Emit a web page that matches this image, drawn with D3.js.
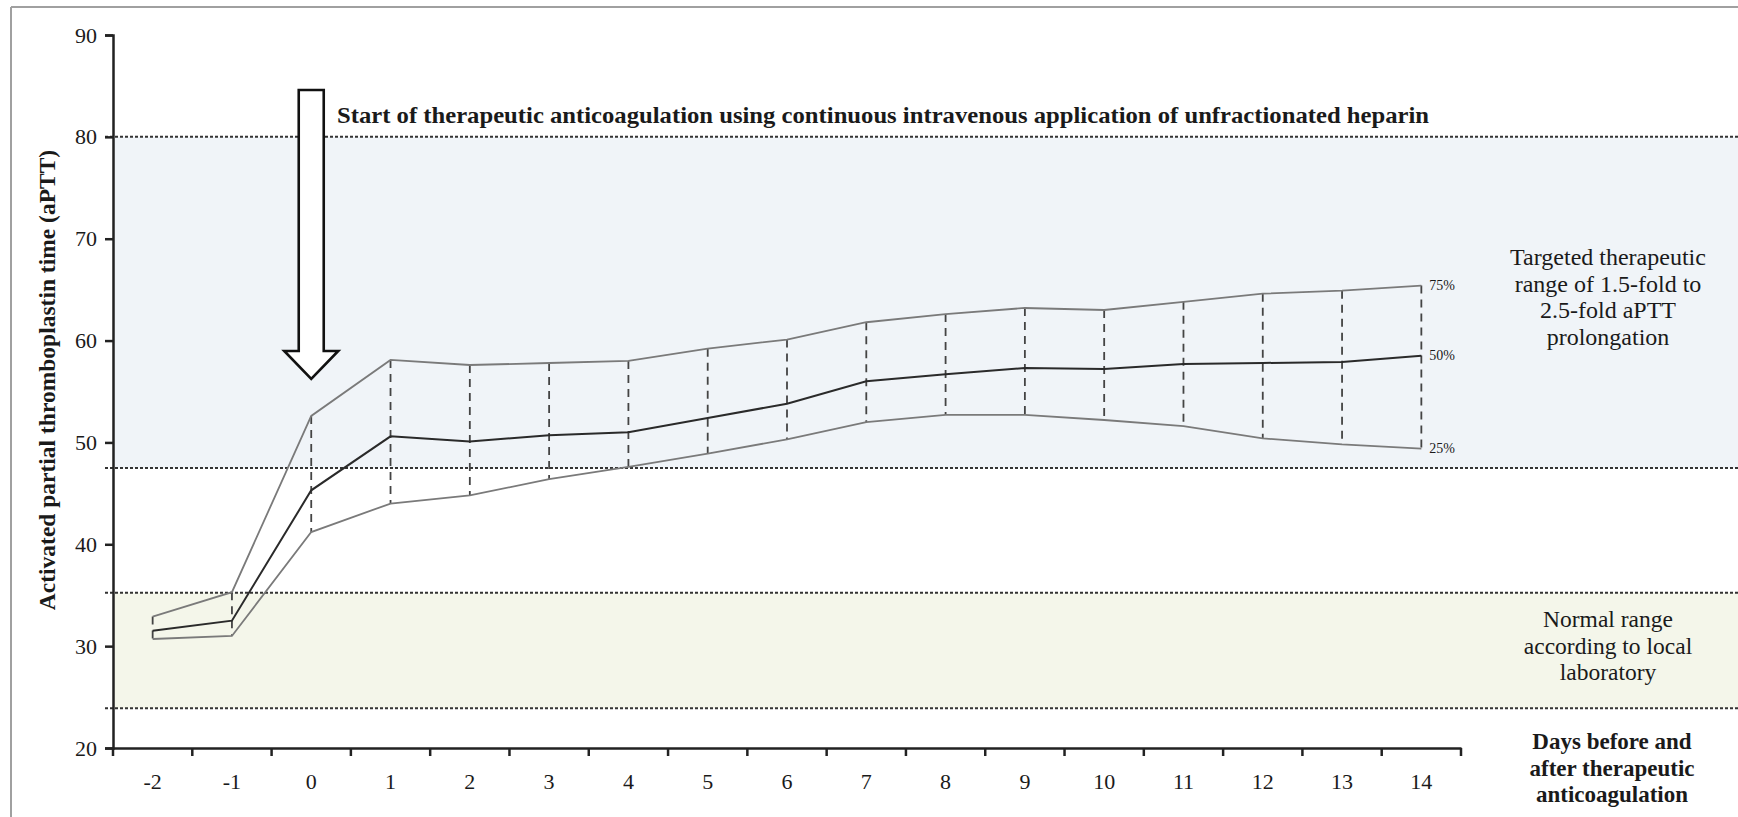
<!DOCTYPE html>
<html>
<head>
<meta charset="utf-8">
<script src="https://cdn.jsdelivr.net/npm/d3@7"></script>
<style>
html,body{margin:0;padding:0;background:#fff;}
svg{display:block;}
text{font-family:"Liberation Serif","DejaVu Serif",serif;fill:#1a1a1a;}
</style>
</head>
<body>
<svg id="chart" width="1738" height="817"></svg>
<script>
// ---- data ----
const days = [-2,-1,0,1,2,3,4,5,6,7,8,9,10,11,12,13,14];
const p75 = [32.9,35.3,52.6,58.1,57.6,57.8,58.0,59.2,60.1,61.8,62.6,63.2,63.0,63.8,64.6,64.9,65.4];
const p50 = [31.5,32.5,45.3,50.6,50.1,50.7,51.0,52.4,53.8,56.0,56.7,57.3,57.2,57.7,57.8,57.9,58.5];
const p25 = [30.7,31.0,41.2,44.0,44.8,46.4,47.6,48.9,50.3,52.0,52.7,52.7,52.2,51.6,50.4,49.8,49.4];
const yTicks = [20,30,40,50,60,70,80,90];
const therapeuticRange = [47.5, 80];
const normalRange = [23.9, 35.25];
const startDay = 0;
const titleText = "Start of therapeutic anticoagulation using continuous intravenous application of unfractionated heparin";
const yLabel = "Activated partial thromboplastin time (aPTT)";
const xLabelLines = ["Days before and","after therapeutic","anticoagulation"];
const therapeuticLines = ["Targeted therapeutic","range of 1.5-fold to","2.5-fold aPTT","prolongation"];
const normalLines = ["Normal range","according to local","laboratory"];
const pctLabels = ["75%","50%","25%"];

// ---- layout ----
const W = 1738, H = 817;
const X0 = 113, X1 = 1461, Y0 = 748, Y1 = 35;
const svg = d3.select("#chart");

const x = d3.scaleBand().domain(days).range([X0, X1]).padding(0);
const y = d3.scaleLinear().domain([20, 90]).range([Y0, Y1]);
const cx = d => x(d) + x.bandwidth() / 2;

// outer frame (top and left)
svg.append("line").attr("x1", 11).attr("x2", W).attr("y1", 7).attr("y2", 7)
  .attr("stroke", "#a0a0a0").attr("stroke-width", 2);
svg.append("line").attr("x1", 11).attr("x2", 11).attr("y1", 7).attr("y2", H)
  .attr("stroke", "#a0a0a0").attr("stroke-width", 2);

// shaded ranges
svg.append("rect").attr("x", X0).attr("width", W - X0)
  .attr("y", y(therapeuticRange[1])).attr("height", y(therapeuticRange[0]) - y(therapeuticRange[1]))
  .attr("fill", "#f0f4f8");
svg.append("rect").attr("x", X0).attr("width", W - X0)
  .attr("y", y(normalRange[1])).attr("height", y(normalRange[0]) - y(normalRange[1]))
  .attr("fill", "#f4f6ea");

// dotted boundary lines
[therapeuticRange[1], therapeuticRange[0], normalRange[1], normalRange[0]].forEach(v => {
  svg.append("line").attr("x1", 105).attr("x2", W).attr("y1", y(v)).attr("y2", y(v))
    .attr("stroke", "#333").attr("stroke-width", 2).attr("stroke-dasharray", "3,2");
});

// vertical dashed connectors
svg.append("g").selectAll("line").data(days).join("line")
  .attr("x1", d => cx(d)).attr("x2", d => cx(d))
  .attr("y1", (d, i) => y(p75[i])).attr("y2", (d, i) => y(p25[i]))
  .attr("stroke", "#444").attr("stroke-width", 1.8).attr("stroke-dasharray", "8,6");

// percentile lines
const line = arr => d3.line().x((d, i) => cx(days[i])).y(d => y(d))(arr);
svg.append("path").attr("d", line(p75)).attr("fill", "none").attr("stroke", "#7a7a7a").attr("stroke-width", 1.8);
svg.append("path").attr("d", line(p25)).attr("fill", "none").attr("stroke", "#7a7a7a").attr("stroke-width", 1.8);
svg.append("path").attr("d", line(p50)).attr("fill", "none").attr("stroke", "#2a2a2a").attr("stroke-width", 2);

// percentile labels
const lastI = days.length - 1;
[[pctLabels[0], p75[lastI]], [pctLabels[1], p50[lastI]], [pctLabels[2], p25[lastI]]].forEach(([t, v]) => {
  svg.append("text").attr("x", cx(days[lastI]) + 8).attr("y", y(v) + 4)
    .attr("font-size", 14).attr("fill", "#333").text(t);
});

// axes
const yAxis = d3.axisLeft(y).tickValues(yTicks).tickSize(8).tickPadding(8);
const gy = svg.append("g").attr("transform", `translate(${X0},0)`).call(yAxis);
gy.select(".domain").attr("stroke", "#222").attr("stroke-width", 2.5);
gy.selectAll(".tick line").attr("stroke", "#222").attr("stroke-width", 2.5);
gy.selectAll(".tick text").attr("font-size", 22).attr("fill", "#222")
  .style("font-family", '"Liberation Serif",serif');

const xAxis = d3.axisBottom(x).tickSize(0).tickPadding(0);
const gx = svg.append("g").attr("transform", `translate(0,${Y0})`).call(xAxis);
gx.select(".domain").attr("stroke", "#222").attr("stroke-width", 2.5);
gx.selectAll(".tick text").attr("font-size", 22).attr("fill", "#222").attr("dy", 0).attr("y", 41)
  .style("font-family", '"Liberation Serif",serif');
// boundary ticks between day bands
const bounds = days.map(d => x(d)).concat([X1]);
gx.selectAll(".bt").data(bounds).join("line").attr("class", "bt")
  .attr("x1", d => d).attr("x2", d => d).attr("y1", 0).attr("y2", 8)
  .attr("stroke", "#222").attr("stroke-width", 2.5);

// y axis label
svg.append("text")
  .attr("transform", `translate(55,380) rotate(-90)`)
  .attr("text-anchor", "middle").attr("font-size", 23.5).attr("font-weight", "bold")
  .text(yLabel);

// arrow at start day
const ax = cx(startDay);
const arrowPts = [
  [ax - 12.5, 90], [ax + 12.5, 90], [ax + 12.5, 351], [ax + 27, 351],
  [ax, 379], [ax - 27, 351], [ax - 12.5, 351]
];
svg.append("path").attr("d", d3.line()(arrowPts) + "Z")
  .attr("fill", "#fff").attr("stroke", "#111").attr("stroke-width", 2.6).attr("stroke-linejoin", "miter");

// title
svg.append("text").attr("x", 337).attr("y", 123)
  .attr("font-size", 24).attr("font-weight", "bold")
  .attr("textLength", 1092).attr("lengthAdjust", "spacingAndGlyphs")
  .text(titleText);

// right annotations
const tr = svg.append("text").attr("text-anchor", "middle").attr("font-size", 24).attr("fill", "#222");
therapeuticLines.forEach((t, i) => tr.append("tspan").attr("x", 1608).attr("y", 265 + i * 26.7).text(t));
const nr = svg.append("text").attr("text-anchor", "middle").attr("font-size", 23.5).attr("fill", "#222");
normalLines.forEach((t, i) => nr.append("tspan").attr("x", 1608).attr("y", 627 + i * 26.5).text(t));
const xl = svg.append("text").attr("text-anchor", "middle").attr("font-size", 23).attr("font-weight", "bold");
xLabelLines.forEach((t, i) => xl.append("tspan").attr("x", 1612).attr("y", 749 + i * 26.5).text(t));
</script>
</body>
</html>
